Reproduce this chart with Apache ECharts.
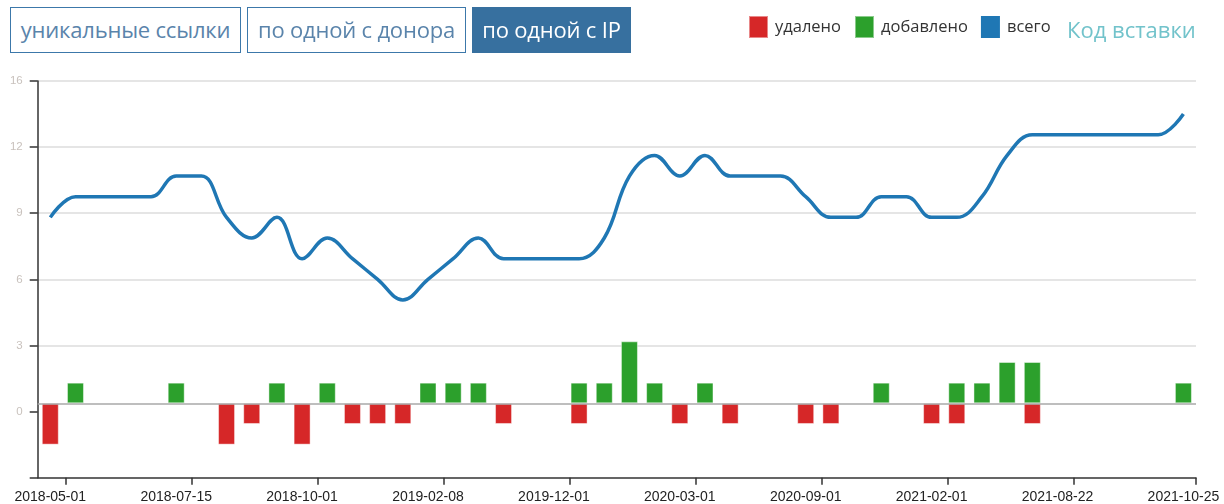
<!DOCTYPE html>
<html>
<head>
<meta charset="utf-8">
<script src="https://cdn.jsdelivr.net/npm/echarts@6/dist/echarts.min.js"></script>
<style>
  html, body { margin: 0; padding: 0; background: #fff; }
  #wrap { position: relative; width: 1224px; height: 504px; overflow: hidden; }
  #chart { position: absolute; left: 0; top: 0; width: 1224px; height: 504px; }
  .btn { position: absolute; top: 7px; height: 46px; box-sizing: border-box; border: 1.5px solid #3c78aa;
         font-family: "Open Sans", sans-serif; font-size: 22px; line-height: 42px; text-align: center;
         color: #5a84ab; background: #fff; white-space: nowrap; letter-spacing: -0.2px; }
  .btn.active { background: #37709f; color: #fff; border-color: #37709f; }
  #code { position: absolute; left: 1067px; top: 14px; font-family: "Open Sans", sans-serif; font-size: 22px;
          color: #72c3cb; line-height: 30px; white-space: nowrap; }
</style>
</head>
<body>
<div id="wrap">
  <div id="chart"></div>
  <div class="btn" style="left:10px;width:231px;">уникальные ссылки</div>
  <div class="btn" style="left:247px;width:219px;">по одной с донора</div>
  <div class="btn active" style="left:472px;width:159px;">по одной с IP</div>
  <div id="code">Код вставки</div>
</div>
<script>
// ---- data (46 evenly spaced points) ----
const tickLabels = ['2018-05-01','2018-07-15','2018-10-01','2019-02-08','2019-12-01',
                    '2020-03-01','2020-09-01','2021-02-01','2021-08-22','2021-10-25'];
const labelIndex = [0, 5, 10, 15, 20, 25, 30, 35, 40, 45];

const removed = [-2,null,null,null,null,null,null,-2,-1,null,
                 -2,null,-1,-1,-1,null,null,null,-1,null,
                 null,-1,null,null,null,-1,null,-1,null,null,
                 -1,-1,null,null,null,-1,-1,null,null,-1,
                 null,null,null,null,null,null];
const added   = [null,1,null,null,null,1,null,null,null,1,
                 null,1,null,null,null,1,1,1,null,null,
                 null,1,1,3,1,null,1,null,null,null,
                 null,null,null,1,null,null,1,1,2,2,
                 null,null,null,null,null,1];
const total   = [9,10,10,10,10,11,11,9,8,9,
                 7,8,7,6,5,6,7,8,7,7,
                 7,7,8,11,12,11,12,11,11,11,
                 10,9,9,10,10,9,9,10,12,13,
                 13,13,13,13,13,14];

const N = total.length;
const pairs = arr => arr.map((v, i) => [i, v]);

const chart = echarts.init(document.getElementById('chart'));
const tickPos = labelIndex.map(i => Math.min(i + 0.63, N - 0.5));

chart.setOption({
  animation: false,
  textStyle: { fontFamily: '"Liberation Sans", Arial, sans-serif' },
  legend: {
    left: 748, top: 15, padding: 0,
    icon: 'rect', itemWidth: 19, itemHeight: 22, itemGap: 13,
    textStyle: { fontFamily: '"Open Sans", sans-serif', fontSize: 16.5, color: '#333', padding: [0, 0, 0, 2] },
    data: ['удалено', 'добавлено', 'всего'],
    selectedMode: false
  },
  grid: { left: 37.7, right: 28, top: 81, bottom: 26.3, containLabel: false },
  xAxis: [{
    type: 'value', min: -0.5, max: N - 0.5,
    axisLine: { show: true, onZero: false, lineStyle: { color: '#333', width: 1.5 } },
    axisTick: { show: true, length: 7, customValues: tickPos, lineStyle: { color: '#333', width: 1.5 } },
    axisLabel: {
      customValues: labelIndex, margin: 12, fontSize: 14, color: '#222',
      formatter: v => tickLabels[labelIndex.indexOf(Math.round(v))] || ''
    },
    splitLine: { show: false }
  }],
  yAxis: [{
    type: 'value', min: -3.2, max: 16, interval: 3.2,
    axisLine: { show: true, onZero: false, lineStyle: { color: '#333', width: 1.5 } },
    axisTick: { show: true, length: 8, lineStyle: { color: '#333', width: 1.5 } },
    axisLabel: {
      margin: 15, fontSize: 11.5, color: '#c9c2bd',
      formatter: v => v < -0.01 ? '' : String(Math.floor(v + 1e-6))
    },
    splitLine: { show: true, showMinLine: false,
      lineStyle: { color: ['rgba(0,0,0,0)', '#dcdcdc', '#dcdcdc', '#dcdcdc', '#dcdcdc', '#dcdcdc'], width: 1.5 } }
  }, {
    type: 'value', min: -3.6, max: 15.6, show: false,
    splitLine: { show: false }
  }],
  series: [{
    name: 'удалено', type: 'bar', xAxisIndex: 0, yAxisIndex: 1,
    data: pairs(removed), barWidth: 17, barGap: '-100%',
    itemStyle: { color: '#d62728', borderColor: 'rgba(255,255,255,0.45)', borderWidth: 1 },
    markLine: {
      silent: true, symbol: 'none', label: { show: false },
      lineStyle: { color: '#a8a8a8', type: 'solid', width: 1.5 },
      data: [{ yAxis: 0 }]
    }
  }, {
    name: 'добавлено', type: 'bar', xAxisIndex: 0, yAxisIndex: 1,
    data: pairs(added), barWidth: 17, barGap: '-100%',
    itemStyle: { color: '#2ca02c', borderColor: 'rgba(255,255,255,0.45)', borderWidth: 1 }
  }, {
    name: 'всего', type: 'line', xAxisIndex: 0, yAxisIndex: 1,
    data: pairs(total), smooth: 0.4, showSymbol: false, symbol: 'none',
    lineStyle: { color: '#1f77b4', width: 3.5 },
    itemStyle: { color: '#1f77b4' }
  }]
});
</script>
</body>
</html>
